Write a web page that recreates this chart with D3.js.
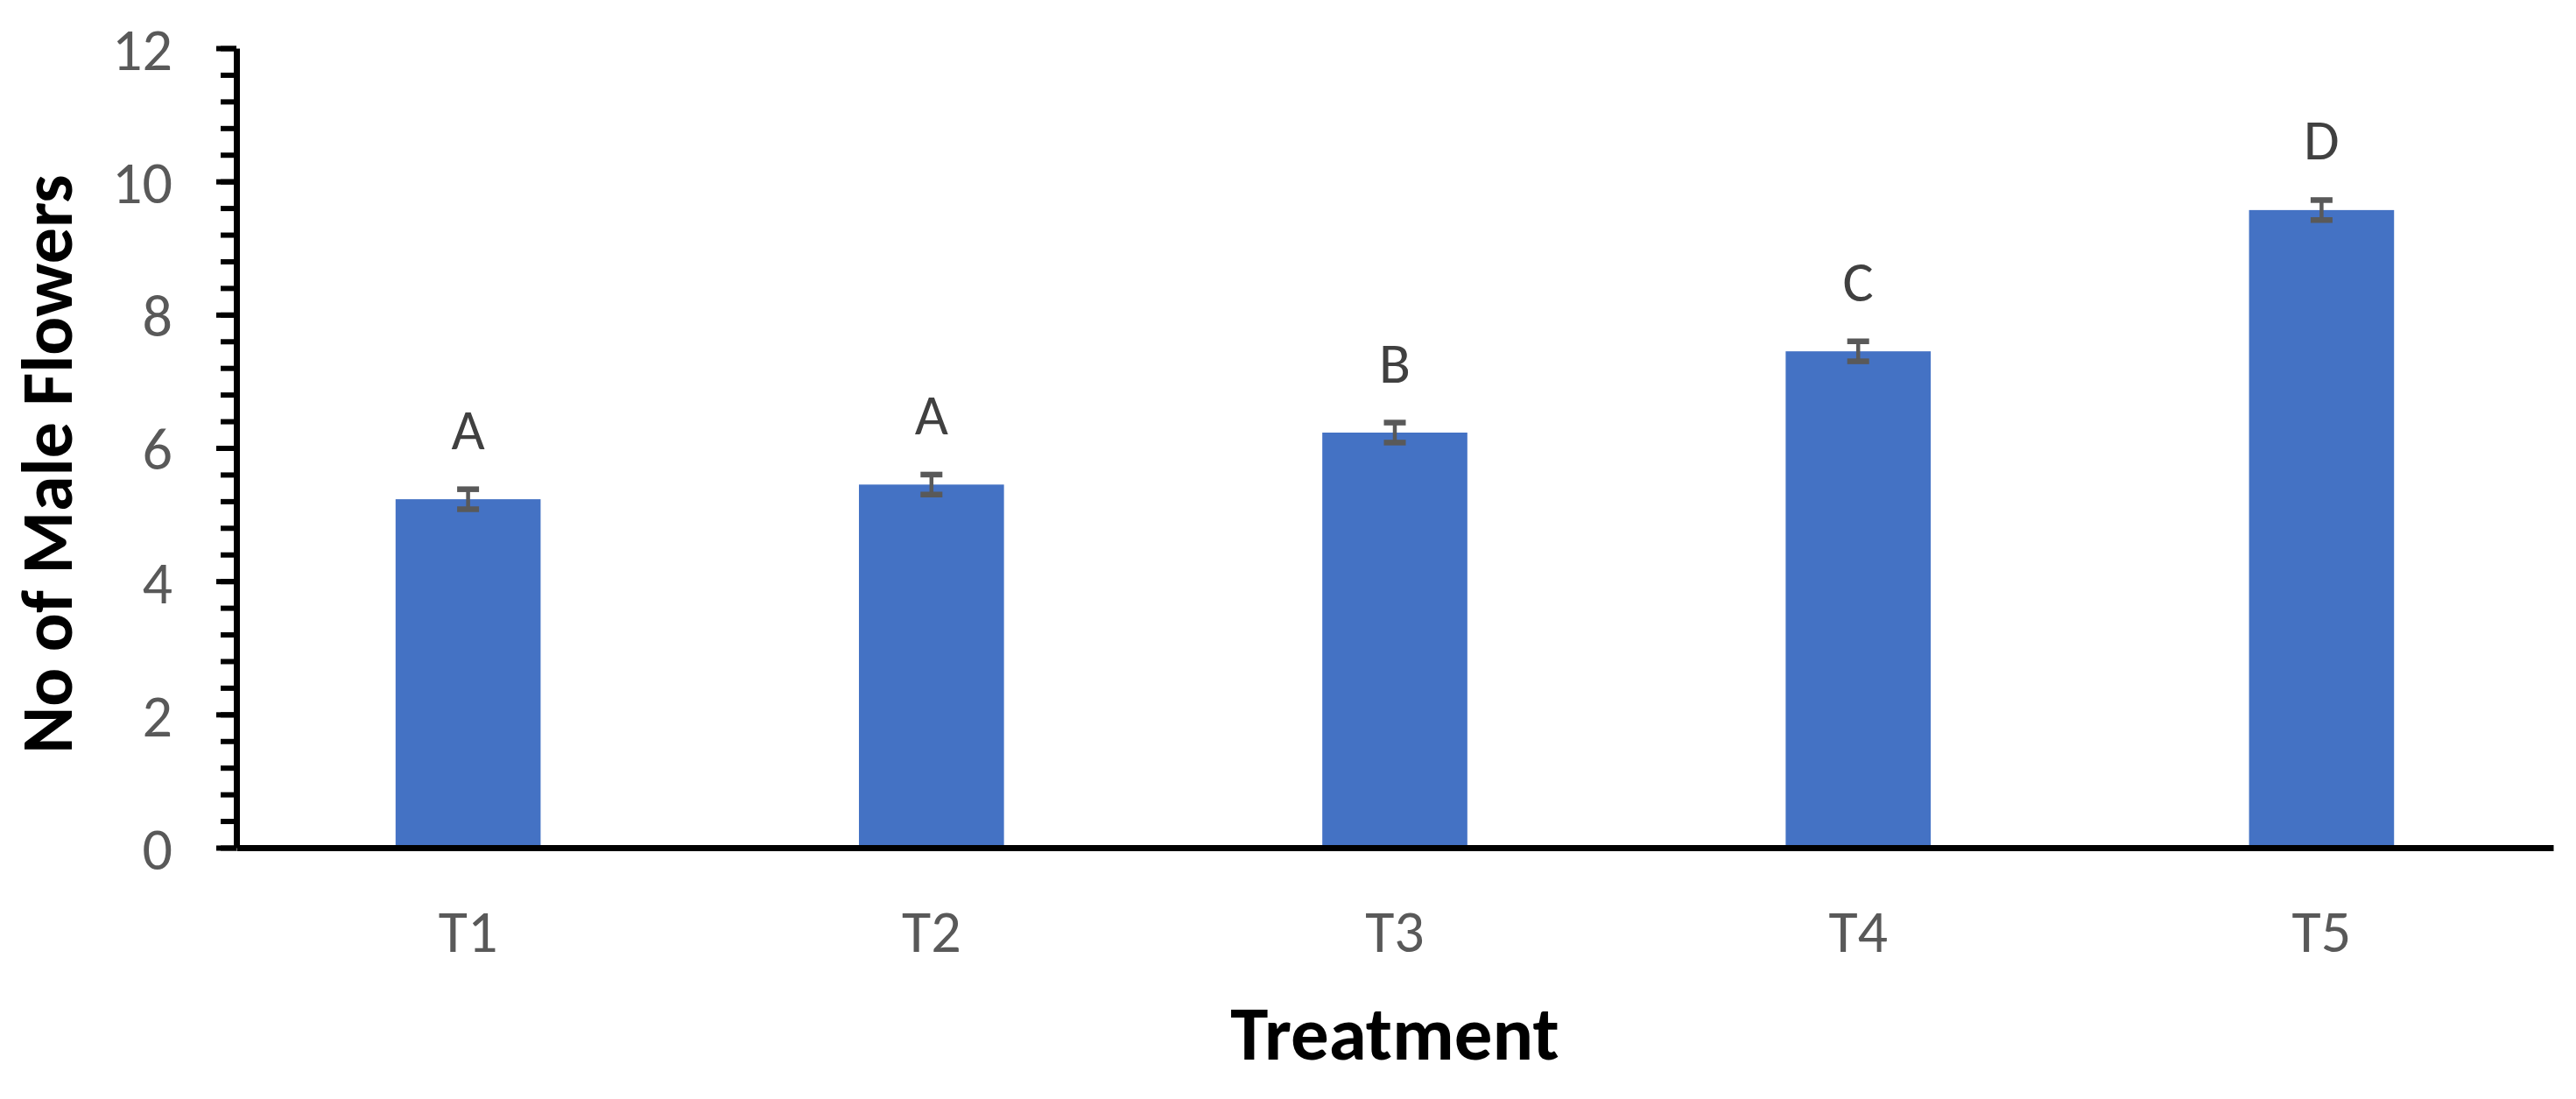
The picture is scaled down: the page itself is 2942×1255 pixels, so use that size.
<!DOCTYPE html>
<html>
<head>
<meta charset="utf-8">
<script src="https://cdn.jsdelivr.net/npm/d3@7"></script>
<style>
  html, body { margin: 0; padding: 0; background: #fff; }
  svg { display: block; }
</style>
</head>
<body>
<div id="chart"></div>
<script>
// data
const treatments = ["T1", "T2", "T3", "T4", "T5"];
const maleFlowers = [5.23, 5.45, 6.23, 7.45, 9.57];
const stdErrors = [0.15, 0.15, 0.15, 0.15, 0.15];
const groupLetters = ["A", "A", "B", "C", "D"];
const yMajorTicks = [0, 2, 4, 6, 8, 10, 12];
const yMinorTicks = d3.range(0, 12.01, 0.4);

const width = 2942;
const height = 1255;
const margin = { top: 55, right: 26, bottom: 287, left: 270 };
const font = "Carlito, Calibri, Lato, sans-serif";

const rows = treatments.map((t, i) => ({
  name: t, value: maleFlowers[i], err: stdErrors[i], letter: groupLetters[i]
}));

const x = d3.scaleBand()
  .domain(treatments)
  .range([margin.left, width - margin.right])
  .paddingInner(0)
  .paddingOuter(0);

const y = d3.scaleLinear()
  .domain([0, 12])
  .range([height - margin.bottom, margin.top]);

const barW = x.bandwidth() * 0.313;

const svg = d3.select("#chart")
  .append("svg")
  .attr("width", width)
  .attr("height", height)
  .style("background", "#fff");

// bars
svg.append("g")
  .selectAll("rect")
  .data(rows)
  .join("rect")
  .attr("x", d => x(d.name) + x.bandwidth() / 2 - barW / 2)
  .attr("y", d => y(d.value))
  .attr("width", barW)
  .attr("height", d => y(0) - y(d.value))
  .attr("fill", "#4472C4");

// error bars
const eb = svg.append("g")
  .attr("stroke", "#595959")
  .selectAll("g")
  .data(rows)
  .join("g")
  .attr("transform", d => `translate(${x(d.name) + x.bandwidth() / 2},0)`);

eb.append("line")
  .attr("y1", d => y(d.value + d.err))
  .attr("y2", d => y(d.value - d.err))
  .attr("stroke-width", 4.5);

eb.selectAll(".cap")
  .data(d => [d.value + d.err, d.value - d.err])
  .join("line")
  .attr("class", "cap")
  .attr("x1", -12.5)
  .attr("x2", 12.5)
  .attr("y1", v => y(v))
  .attr("y2", v => y(v))
  .attr("stroke-width", 6.5);

// significance letters
svg.append("g")
  .attr("font-family", font)
  .attr("font-size", 66)
  .attr("fill", "#404040")
  .attr("text-anchor", "middle")
  .selectAll("text")
  .data(rows)
  .join("text")
  .attr("x", d => x(d.name) + x.bandwidth() / 2)
  .attr("y", d => y(d.value + d.err) - 46)
  .text(d => d.letter);

// y axis: minor then major ticks
svg.append("g")
  .attr("transform", `translate(${margin.left},0)`)
  .call(d3.axisLeft(y).tickValues(yMinorTicks).tickSize(18).tickFormat(""))
  .call(g => g.select(".domain").remove())
  .call(g => g.selectAll("line").attr("stroke", "#000").attr("stroke-width", 6));

svg.append("g")
  .attr("transform", `translate(${margin.left},0)`)
  .call(d3.axisLeft(y).tickValues(yMajorTicks).tickSize(23).tickSizeOuter(0).tickPadding(50))
  .call(g => g.select(".domain").attr("stroke", "#000").attr("stroke-width", 7))
  .call(g => g.selectAll(".tick line").attr("stroke", "#000").attr("stroke-width", 6))
  .call(g => g.selectAll(".tick text")
    .attr("font-family", font)
    .attr("font-size", 68)
    .attr("fill", "#595959")
    .attr("dy", "0.36em"));

// x axis
svg.append("g")
  .attr("transform", `translate(0,${y(0)})`)
  .call(d3.axisBottom(x).tickSize(0).tickSizeOuter(0))
  .call(g => g.select(".domain").attr("stroke", "#000").attr("stroke-width", 7))
  .call(g => g.selectAll(".tick text")
    .attr("font-family", font)
    .attr("font-size", 68)
    .attr("fill", "#595959")
    .attr("y", 119)
    .attr("dy", 0));

// axis titles
svg.append("text")
  .attr("x", (margin.left + width - margin.right) / 2)
  .attr("y", 1210)
  .attr("text-anchor", "middle")
  .attr("font-family", font)
  .attr("font-weight", "bold")
  .attr("font-size", 87)
  .attr("fill", "#000")
  .text("Treatment");

svg.append("text")
  .attr("transform", "translate(82,530) rotate(-90)")
  .attr("text-anchor", "middle")
  .attr("font-family", font)
  .attr("font-weight", "bold")
  .attr("font-size", 82)
  .attr("fill", "#000")
  .text("No of Male Flowers");
</script>
</body>
</html>
